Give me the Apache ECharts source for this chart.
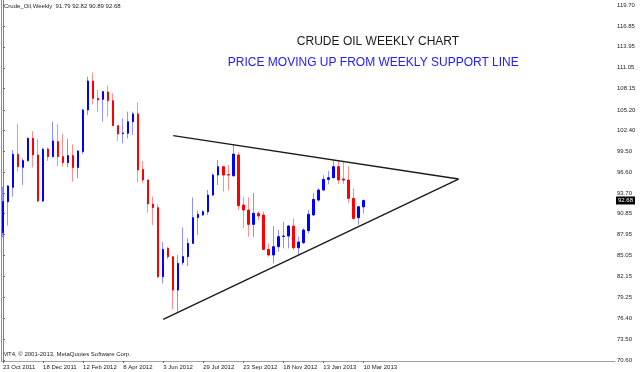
<!DOCTYPE html>
<html>
<head>
<meta charset="utf-8">
<script src="https://cdn.jsdelivr.net/npm/echarts@6/dist/echarts.min.js"></script>
<style>
html,body{margin:0;padding:0;background:#fff;}
#chart{width:640px;height:372px;}
</style>
</head>
<body>
<div id="chart"></div>
<script>
// Weekly candles, 23 Oct 2011 .. 10 Mar 2013 (index = week number)
const openP  = [88.22,92.52,94.50,99.07,97.27,98.20,101.29,98.98,92.61,99.80,98.75,100.83,98.75,97.92,98.89,97.23,99.44,105.21,109.22,106.82,106.68,107.70,106.50,103.04,101.95,101.98,103.59,104.66,96.98,95.52,92.19,91.68,82.13,86.05,84.90,80.28,84.08,84.90,86.74,90.30,90.67,91.13,93.43,96.20,97.36,96.25,96.10,98.97,92.05,91.36,89.37,90.90,90.67,85.91,85.13,86.28,87.70,87.76,89.14,86.14,86.84,88.50,90.67,92.74,94.13,95.60,95.83,97.36,95.65,95.51,92.97,90.30,91.79];
const closeP = [92.52,94.69,99.07,97.36,98.20,101.29,98.98,92.61,99.76,98.75,100.92,98.75,97.92,98.89,97.23,99.53,105.21,109.22,106.82,106.59,107.75,106.50,103.04,101.89,102.03,103.59,104.66,96.90,95.52,92.20,91.68,82.13,85.91,84.90,80.28,83.97,84.91,86.74,90.30,90.76,91.13,93.43,96.20,97.36,96.20,96.20,99.10,91.96,91.36,89.37,90.90,90.53,85.91,85.13,86.28,87.67,87.76,89.14,86.14,86.93,88.59,90.76,92.83,94.13,95.60,95.83,97.36,95.51,95.50,92.97,90.20,91.82,92.68];
const lowP   = [87.54,89.20,93.20,96.67,94.83,98.05,97.27,92.43,92.43,98.15,98.60,97.46,97.36,97.27,95.29,95.75,99.12,104.52,105.99,104.98,103.60,104.29,103.00,100.92,100.60,101.29,101.75,95.20,95.06,91.00,89.28,81.90,81.20,84.55,77.60,77.28,83.74,83.60,86.70,87.90,90.53,90.67,93.30,94.82,93.90,94.10,95.97,91.36,88.82,87.66,87.66,89.97,85.80,84.90,83.97,85.60,86.05,86.05,85.82,85.13,86.65,88.13,90.53,92.51,94.03,94.91,95.74,94.96,94.96,92.37,89.97,89.28,90.89];
const highP  = [94.60,94.80,99.67,103.27,98.52,101.42,102.30,101.15,99.99,100.04,103.59,103.22,101.89,101.20,100.46,99.67,105.34,109.82,110.38,107.98,107.75,108.58,107.52,103.04,104.06,104.98,104.98,106.27,98.15,95.52,93.20,92.15,86.97,86.28,85.00,85.13,88.96,87.44,93.10,91.30,91.35,94.13,96.43,98.28,97.40,97.60,100.45,99.34,93.20,93.10,93.70,91.20,91.13,86.74,89.14,88.60,89.74,89.28,90.20,87.67,88.80,91.36,93.75,94.36,96.20,96.76,98.28,98.14,98.05,97.45,94.36,91.91,92.82];

// Hand-drawn trend lines: [week index, price]
const resistanceLine = [[34, 101.65], [91, 95.65]];
const supportLine    = [[32, 76.23], [91, 95.65]];

// Axis ticks
const dateTickIdx   = [0, 8, 16, 24, 32, 40, 48, 56, 64, 72];
const dateTickLabel = ['23 Oct 2011','18 Dec 2011','12 Feb 2012','8 Apr 2012','3 Jun 2012','29 Jul 2012','23 Sep 2012','18 Nov 2012','13 Jan 2013','10 Mar 2013'];
const priceTicks = [70.60,73.50,76.40,79.25,82.15,85.05,87.95,90.85,93.70,96.60,99.50,102.40,105.20,108.15,111.05,113.95,116.85,119.70];

const symbolName = 'Crude_Oil,Weekly';
const lastPrice = 92.68;

const wickData = openP.map((o, i) => [i, o, closeP[i], lowP[i], highP[i]]);
const bodyData = openP.map((o, i) => [i, o, closeP[i], Math.min(o, closeP[i]), Math.max(o, closeP[i])]);

const FONT = 'Liberation Sans';
const chart = echarts.init(document.getElementById('chart'), null, {renderer: 'canvas'});
chart.setOption({
  animation: false,
  backgroundColor: '#fff',
  grid: {left: 1, right: 25, top: 0, bottom: 11, containLabel: false},
  xAxis: {
    type: 'value', min: -0.34, max: 122.26,
    axisLine: {show: true, lineStyle: {color: '#a0a0a0', width: 1}},
    axisTick: {show: true, length: 2, customValues: dateTickIdx, lineStyle: {color: '#666'}},
    axisLabel: {
      customValues: dateTickIdx, align: 'left', margin: 3,
      fontFamily: FONT, fontSize: 6, color: '#222',
      formatter: v => dateTickLabel[dateTickIdx.indexOf(Math.round(v))] || ''
    },
    splitLine: {show: false}
  },
  yAxis: {
    type: 'value', position: 'right', min: 70.46, max: 120.43, scale: true,
    axisLine: {show: true, lineStyle: {color: '#808080', width: 1}},
    axisTick: {show: true, inside: false, length: 2, customValues: priceTicks, lineStyle: {color: '#666'}},
    axisLabel: {
      customValues: priceTicks, margin: 2,
      fontFamily: FONT, fontSize: 6, color: '#222',
      formatter: v => v.toFixed(2)
    },
    splitLine: {show: false}
  },
  series: [
    {
      type: 'candlestick', name: 'wicks', data: wickData, barWidth: 1,
      encode: {x: 0, y: [1, 2, 3, 4]},
      itemStyle: {
        color: 'rgba(70,70,255,0.6)', color0: 'rgba(255,70,70,0.6)',
        borderColor: 'rgba(70,70,255,0.6)', borderColor0: 'rgba(255,70,70,0.6)', borderWidth: 1
      }
    },
    {
      type: 'candlestick', name: 'bodies', data: bodyData, barWidth: 2,
      encode: {x: 0, y: [1, 2, 3, 4]},
      itemStyle: {
        color: '#0000ff', color0: '#ff0000',
        borderColor: '#0000ff', borderColor0: '#ff0000', borderWidth: 1
      }
    },
    {
      type: 'line', data: resistanceLine, symbol: 'none',
      lineStyle: {color: '#1a1a1a', width: 1.4}
    },
    {
      type: 'line', data: supportLine, symbol: 'none',
      lineStyle: {color: '#1a1a1a', width: 1.4},
      markLine: {
        silent: true, symbol: ['none', 'none'],
        lineStyle: {color: 'rgba(0,0,0,0)', width: 0.01, type: 'solid'},
        label: {
          show: true, position: 'end', distance: 1,
          formatter: () => lastPrice.toFixed(2),
          backgroundColor: '#000', color: '#fff',
          fontFamily: FONT, fontSize: 6, padding: [1, 2, 1, 2]
        },
        data: [{yAxis: lastPrice}]
      }
    }
  ],
  graphic: [
    {type: 'line', shape: {x1: 1.5, y1: 0, x2: 1.5, y2: 361}, style: {stroke: '#909090', lineWidth: 1}},
    {type: 'text', left: 4, top: 3, style: {text: symbolName + '  ' + [openP[72], highP[72], lowP[72], closeP[72]].map(v => v.toFixed(2)).join(' '), font: '6px "Liberation Sans"', fill: '#222'}},
    {type: 'text', left: 3, top: 351, style: {text: 'MT4, © 2001-2013, MetaQuotes Software Corp.', font: '6px "Liberation Sans"', fill: '#222'}},
    {type: 'text', x: 378, y: 42, style: {text: 'CRUDE OIL WEEKLY CHART', font: '12px "Liberation Sans"', fill: '#1a1a1a', align: 'center', verticalAlign: 'middle'}},
    {type: 'text', x: 373.3, y: 62.8, style: {text: 'PRICE MOVING UP FROM WEEKLY SUPPORT LINE', font: '12px "Liberation Sans"', fill: '#2020ff', align: 'center', verticalAlign: 'middle'}}
  ]
});
</script>
</body>
</html>
